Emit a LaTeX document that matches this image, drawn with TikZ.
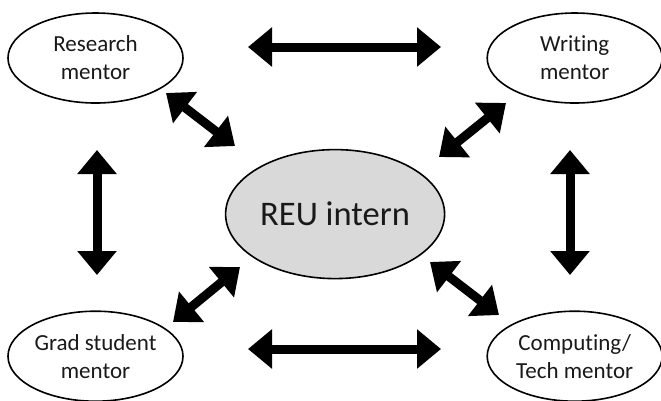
\documentclass[tikz,border=0pt]{standalone}
\usepackage{fontspec}
\setmainfont[Ligatures=NoCommon]{Carlito}
\usetikzlibrary{arrows.meta,shapes}

\definecolor{interngray}{RGB}{217,217,217}
\tikzset{
  mentor/.style={draw, ellipse, line width=1.6pt, minimum width=175pt, minimum height=90pt,
    align=center, inner sep=0pt, font=\fontsize{23}{28}\selectfont, text=black!90},
  intern/.style={fill=interngray, minimum width=219pt, minimum height=129pt,
    font=\fontsize{34.5}{40}\selectfont},
  twoway/.style={line width=9pt,
    {Triangle[width=38pt,length=24pt]}-{Triangle[width=38pt,length=24pt]}}
}

\begin{document}
\begin{tikzpicture}
    \useasboundingbox (0,0) rectangle (661pt,-400pt);
    \matrix[nodes={mentor}, inner sep=0pt, anchor=north west,
        row sep=31pt,column sep=41pt,ampersand replacement=\&] at (7pt,-12pt) {
      \node (research) {Research\\mentor};\& \&
      \node (writing) {Writing\\mentor};\\[14pt]
      \& \node[intern] (intern) {REU intern};\& \\
      \node (grad) {Grad student\\mentor};\& \&
      \node (computing) {Computing/\\Tech mentor};\\
    };
    % arrow ends, they stop short of the ellipses
    \coordinate (top1) at (248pt,-47pt);   \coordinate (top2) at (441pt,-47pt);
    \coordinate (bot1) at (248pt,-349pt);  \coordinate (bot2) at (441pt,-349pt);
    \coordinate (left1) at (97pt,-150pt);  \coordinate (left2) at (97pt,-275pt);
    \coordinate (right1) at (570pt,-150pt); \coordinate (right2) at (570pt,-275pt);
    \coordinate (rs1) at (166pt,-93pt);    \coordinate (rs2) at (235pt,-146pt);
    \coordinate (wr1) at (506pt,-103pt);   \coordinate (wr2) at (439pt,-157pt);
    \coordinate (gr1) at (173pt,-322pt);   \coordinate (gr2) at (240pt,-267pt);
    \coordinate (cp1) at (430pt,-262pt);   \coordinate (cp2) at (499pt,-315pt);
    \path[twoway]
      (top1) edge (top2)
      (bot1) edge (bot2)
      (left1) edge (left2)
      (right1) edge (right2)
      (rs1) edge (rs2)
      (wr1) edge (wr2)
      (gr1) edge (gr2)
      (cp1) edge (cp2);
\end{tikzpicture}
\end{document}
